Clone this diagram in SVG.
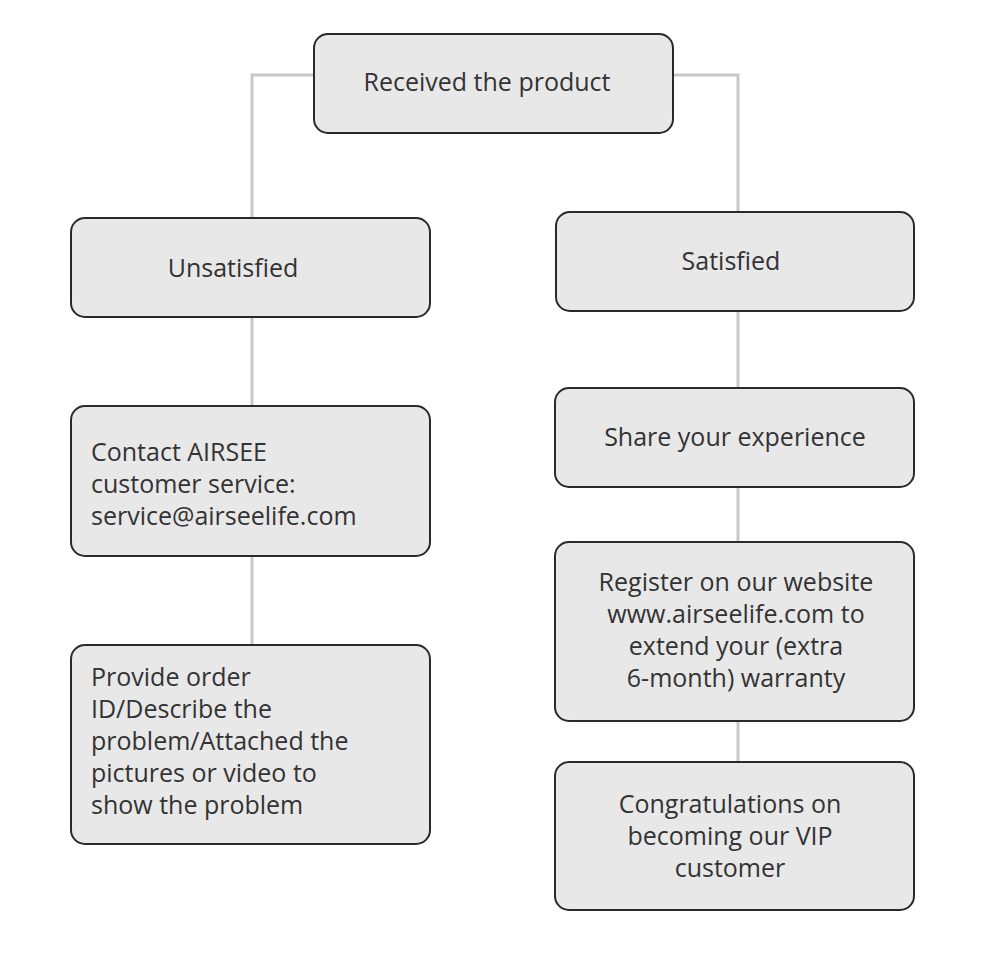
<svg xmlns="http://www.w3.org/2000/svg" width="982" height="961" viewBox="0 0 982 961">
<style>
.b{fill:#e8e8e8;stroke:#2a2a2a;stroke-width:2}
.t{font-family:"Open Sans","Liberation Sans",sans-serif;font-size:25px;fill:#333}
.c{stroke:#c8c8c8;stroke-width:3;fill:none}
</style>
<rect width="982" height="961" fill="#fff"/>
<g id="connectors">
<path class="c" d="M314 75H252V218"/>
<path class="c" d="M673 75H738V212"/>
<path class="c" d="M252 317V406"/>
<path class="c" d="M252 556V645"/>
<path class="c" d="M738 311V388"/>
<path class="c" d="M738 487V542"/>
<path class="c" d="M738 721V762"/>
</g>
<g id="received"><rect class="b" x="314" y="34" width="359" height="99" rx="14"/><text class="t" x="487" y="91" text-anchor="middle">Received the product</text></g>
<g id="unsatisfied"><rect class="b" x="71" y="218" width="359" height="99" rx="14"/><text class="t" x="233" y="277" text-anchor="middle">Unsatisfied</text></g>
<g id="satisfied"><rect class="b" x="556" y="212" width="358" height="99" rx="14"/><text class="t" x="731" y="270" text-anchor="middle">Satisfied</text></g>
<g id="contact"><rect class="b" x="71" y="406" width="359" height="150" rx="14"/><text class="t" x="91" y="461">Contact AIRSEE</text><text class="t" x="91" y="493">customer service:</text><text class="t" x="91" y="525">service@airseelife.com</text></g>
<g id="provide"><rect class="b" x="71" y="645" width="359" height="199" rx="14"/><text class="t" x="91" y="686">Provide order</text><text class="t" x="91" y="718">ID/Describe the</text><text class="t" x="91" y="750">problem/Attached the</text><text class="t" x="91" y="782">pictures or video to</text><text class="t" x="91" y="814">show the problem</text></g>
<g id="share"><rect class="b" x="555" y="388" width="359" height="99" rx="14"/><text class="t" x="735" y="446" text-anchor="middle">Share your experience</text></g>
<g id="register"><rect class="b" x="555" y="542" width="359" height="179" rx="14"/><text class="t" x="736" y="591" text-anchor="middle">Register on our website</text><text class="t" x="736" y="623" text-anchor="middle">www.airseelife.com to</text><text class="t" x="736" y="655" text-anchor="middle">extend your (extra</text><text class="t" x="736" y="687" text-anchor="middle">6-month) warranty</text></g>
<g id="congrats"><rect class="b" x="555" y="762" width="359" height="148" rx="14"/><text class="t" x="730" y="813" text-anchor="middle">Congratulations on</text><text class="t" x="730" y="845" text-anchor="middle">becoming our VIP</text><text class="t" x="730" y="877" text-anchor="middle">customer</text></g>
</svg>
